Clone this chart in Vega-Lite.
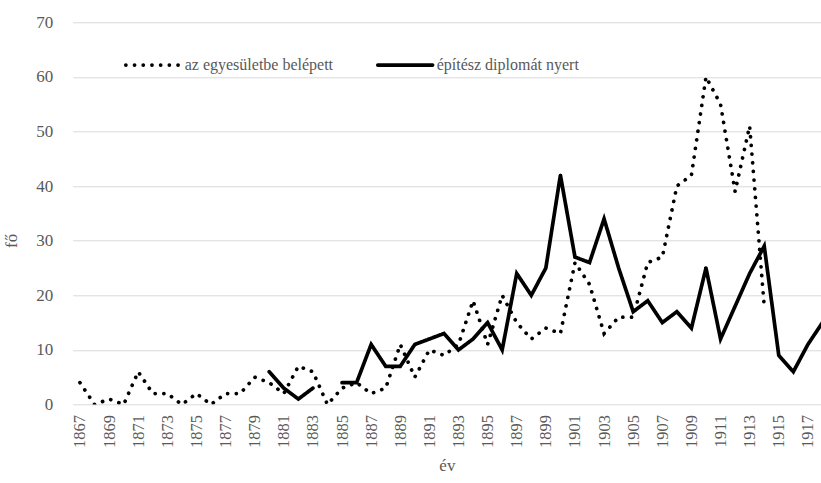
{
  "$schema": "https://vega.github.io/schema/vega-lite/v6.json",
  "autosize": "none",
  "width": 748.3,
  "height": 382.2,
  "padding": {"left": 72.7, "top": 22.3, "right": 0, "bottom": 78.5},
  "background": "white",
  "config": {
    "font": "Liberation Serif",
    "view": {"stroke": null},
    "axis": {"labelColor": "#595959", "titleColor": "#595959", "labelFont": "Liberation Serif", "titleFont": "Liberation Serif", "titleFontWeight": "normal"},
    "legend": {"labelFont": "Liberation Serif"}
  },
  "datasets": {
    "rows": [
      {"year": 1867, "series": "az egyesületbe belépett", "value": 4},
      {"year": 1868, "series": "az egyesületbe belépett", "value": 0},
      {"year": 1869, "series": "az egyesületbe belépett", "value": 1},
      {"year": 1870, "series": "az egyesületbe belépett", "value": 0},
      {"year": 1871, "series": "az egyesületbe belépett", "value": 6},
      {"year": 1872, "series": "az egyesületbe belépett", "value": 2},
      {"year": 1873, "series": "az egyesületbe belépett", "value": 2},
      {"year": 1874, "series": "az egyesületbe belépett", "value": 0},
      {"year": 1875, "series": "az egyesületbe belépett", "value": 2},
      {"year": 1876, "series": "az egyesületbe belépett", "value": 0},
      {"year": 1877, "series": "az egyesületbe belépett", "value": 2},
      {"year": 1878, "series": "az egyesületbe belépett", "value": 2},
      {"year": 1879, "series": "az egyesületbe belépett", "value": 5},
      {"year": 1880, "series": "az egyesületbe belépett", "value": 4},
      {"year": 1881, "series": "az egyesületbe belépett", "value": 2},
      {"year": 1882, "series": "az egyesületbe belépett", "value": 7},
      {"year": 1883, "series": "az egyesületbe belépett", "value": 6},
      {"year": 1884, "series": "az egyesületbe belépett", "value": 0},
      {"year": 1885, "series": "az egyesületbe belépett", "value": 3},
      {"year": 1886, "series": "az egyesületbe belépett", "value": 4},
      {"year": 1887, "series": "az egyesületbe belépett", "value": 2},
      {"year": 1888, "series": "az egyesületbe belépett", "value": 3},
      {"year": 1889, "series": "az egyesületbe belépett", "value": 11},
      {"year": 1890, "series": "az egyesületbe belépett", "value": 5},
      {"year": 1891, "series": "az egyesületbe belépett", "value": 10},
      {"year": 1892, "series": "az egyesületbe belépett", "value": 9},
      {"year": 1893, "series": "az egyesületbe belépett", "value": 11},
      {"year": 1894, "series": "az egyesületbe belépett", "value": 19},
      {"year": 1895, "series": "az egyesületbe belépett", "value": 11},
      {"year": 1896, "series": "az egyesületbe belépett", "value": 20},
      {"year": 1897, "series": "az egyesületbe belépett", "value": 15},
      {"year": 1898, "series": "az egyesületbe belépett", "value": 12},
      {"year": 1899, "series": "az egyesületbe belépett", "value": 14},
      {"year": 1900, "series": "az egyesületbe belépett", "value": 13},
      {"year": 1901, "series": "az egyesületbe belépett", "value": 26},
      {"year": 1902, "series": "az egyesületbe belépett", "value": 22},
      {"year": 1903, "series": "az egyesületbe belépett", "value": 13},
      {"year": 1904, "series": "az egyesületbe belépett", "value": 16},
      {"year": 1905, "series": "az egyesületbe belépett", "value": 16},
      {"year": 1906, "series": "az egyesületbe belépett", "value": 26},
      {"year": 1907, "series": "az egyesületbe belépett", "value": 27},
      {"year": 1908, "series": "az egyesületbe belépett", "value": 40},
      {"year": 1909, "series": "az egyesületbe belépett", "value": 42},
      {"year": 1910, "series": "az egyesületbe belépett", "value": 60},
      {"year": 1911, "series": "az egyesületbe belépett", "value": 55},
      {"year": 1912, "series": "az egyesületbe belépett", "value": 39},
      {"year": 1913, "series": "az egyesületbe belépett", "value": 51},
      {"year": 1914, "series": "az egyesületbe belépett", "value": 18},
      {"year": 1880, "series": "építész diplomát nyert", "value": 6},
      {"year": 1881, "series": "építész diplomát nyert", "value": 3},
      {"year": 1882, "series": "építész diplomát nyert", "value": 1},
      {"year": 1883, "series": "építész diplomát nyert", "value": 3},
      {"year": 1884, "series": "építész diplomát nyert", "value": null},
      {"year": 1885, "series": "építész diplomát nyert", "value": 4},
      {"year": 1886, "series": "építész diplomát nyert", "value": 4},
      {"year": 1887, "series": "építész diplomát nyert", "value": 11},
      {"year": 1888, "series": "építész diplomát nyert", "value": 7},
      {"year": 1889, "series": "építész diplomát nyert", "value": 7},
      {"year": 1890, "series": "építész diplomát nyert", "value": 11},
      {"year": 1891, "series": "építész diplomát nyert", "value": 12},
      {"year": 1892, "series": "építész diplomát nyert", "value": 13},
      {"year": 1893, "series": "építész diplomát nyert", "value": 10},
      {"year": 1894, "series": "építész diplomát nyert", "value": 12},
      {"year": 1895, "series": "építész diplomát nyert", "value": 15},
      {"year": 1896, "series": "építész diplomát nyert", "value": 10},
      {"year": 1897, "series": "építész diplomát nyert", "value": 24},
      {"year": 1898, "series": "építész diplomát nyert", "value": 20},
      {"year": 1899, "series": "építész diplomát nyert", "value": 25},
      {"year": 1900, "series": "építész diplomát nyert", "value": 42},
      {"year": 1901, "series": "építész diplomát nyert", "value": 27},
      {"year": 1902, "series": "építész diplomát nyert", "value": 26},
      {"year": 1903, "series": "építész diplomát nyert", "value": 34},
      {"year": 1904, "series": "építész diplomát nyert", "value": 25},
      {"year": 1905, "series": "építész diplomát nyert", "value": 17},
      {"year": 1906, "series": "építész diplomát nyert", "value": 19},
      {"year": 1907, "series": "építész diplomát nyert", "value": 15},
      {"year": 1908, "series": "építész diplomát nyert", "value": 17},
      {"year": 1909, "series": "építész diplomát nyert", "value": 14},
      {"year": 1910, "series": "építész diplomát nyert", "value": 25},
      {"year": 1911, "series": "építész diplomát nyert", "value": 12},
      {"year": 1912, "series": "építész diplomát nyert", "value": 18},
      {"year": 1913, "series": "építész diplomát nyert", "value": 24},
      {"year": 1914, "series": "építész diplomát nyert", "value": 29},
      {"year": 1915, "series": "építész diplomát nyert", "value": 9},
      {"year": 1916, "series": "építész diplomát nyert", "value": 6},
      {"year": 1917, "series": "építész diplomát nyert", "value": 11},
      {"year": 1918, "series": "építész diplomát nyert", "value": 15}
    ]
  },
  "data": {"name": "rows"},
  "mark": {"type": "line", "clip": true, "color": "black", "strokeWidth": 3.7, "strokeCap": "round", "strokeJoin": "miter", "invalid": "break-paths-show-domains"},
  "encoding": {
    "x": {
      "field": "year", "type": "quantitative",
      "scale": {"domain": [1866.5, 1917.9], "nice": false, "zero": false},
      "axis": {
        "title": "év", "titleFontSize": 17, "titlePadding": 10,
        "values": [1867,1869,1871,1873,1875,1877,1879,1881,1883,1885,1887,1889,1891,1893,1895,1897,1899,1901,1903,1905,1907,1909,1911,1913,1915,1917],
        "format": "d", "labelAngle": -90, "labelFontSize": 16.5, "labelPadding": 10,
        "ticks": false, "domain": false, "grid": false, "labelFlush": false, "labelOverlap": false
      }
    },
    "y": {
      "field": "value", "type": "quantitative",
      "scale": {"domain": [0, 70], "nice": false},
      "axis": {
        "title": "fő", "titleFontSize": 17, "titleAngle": -90, "titleX": -52, "titleY": 218,
        "values": [0,10,20,30,40,50,60,70], "labelFontSize": 17, "labelPadding": 20,
        "ticks": false, "domain": false, "gridColor": "#d9d9d9", "gridWidth": 1
      }
    },
    "strokeDash": {
      "field": "series", "type": "nominal",
      "scale": {"domain": ["az egyesületbe belépett", "építész diplomát nyert"], "range": [[0.1, 8.6], [1, 0]]},
      "legend": {
        "title": null, "orient": "none", "legendX": 51, "legendY": 13, "direction": "horizontal",
        "symbolType": "stroke", "symbolSize": 3000, "symbolStrokeWidth": 3.7, "symbolStrokeColor": "black",
        "labelFont": "Liberation Serif", "labelFontSize": 16, "labelColor": "#595959", "labelOffset": 2, "columnPadding": 36,
        "encode": {"symbols": {"update": {"strokeCap": {"value": "round"}}}}
      }
    }
  }
}
